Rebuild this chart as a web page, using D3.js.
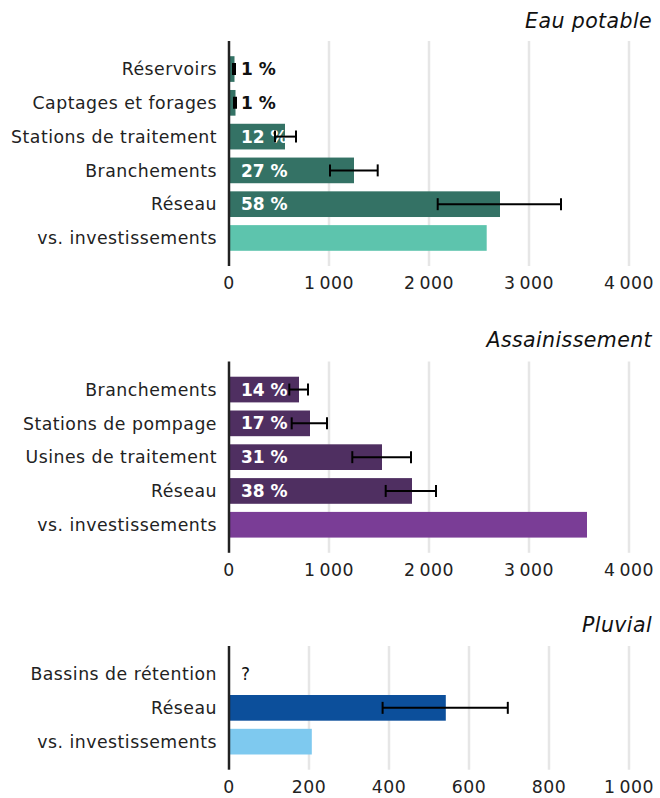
<!DOCTYPE html>
<html><head><meta charset="utf-8">
<script src="https://cdn.jsdelivr.net/npm/d3@7"></script>
<style>
body{margin:0;background:#fff;}
text{font-family:"DejaVu Sans",sans-serif;}
</style></head>
<body><svg id="c" width="660" height="798"></svg>
<script>
// Eau potable
const eauCats = ["Réservoirs","Captages et forages","Stations de traitement","Branchements","Réseau","vs. investissements"];
const eauValues = [55, 65, 560, 1250, 2710, 2577];
const eauLow = [40, 50, 460, 1010, 2087, null];
const eauHigh = [60, 70, 670, 1487, 3320, null];
const eauPct = ["1 %","1 %","12 %","27 %","58 %",""];
const eauTicks = [0,1000,2000,3000,4000];

// Assainissement
const assCats = ["Branchements","Stations de pompage","Usines de traitement","Réseau","vs. investissements"];
const assValues = [700, 810, 1530, 1830, 3580];
const assLow = [603, 627, 1233, 1567, null];
const assHigh = [790, 980, 1820, 2070, null];
const assPct = ["14 %","17 %","31 %","38 %",""];
const assTicks = [0,1000,2000,3000,4000];

// Pluvial
const pluCats = ["Bassins de rétention","Réseau","vs. investissements"];
const pluValues = [null, 542, 207];
const pluLow = [null, 384, null];
const pluHigh = [null, 697, null];
const pluPct = ["?","",""];
const pluTicks = [0,200,400,600,800,1000];

const svg = d3.select("#c");
const fmt = v => d3.format(",")(v).replace(/,/g, "\u2009");

function panel(opt){
  const g = svg.append("g");
  const x = d3.scaleLinear().domain([0, opt.max]).range([229, 629]);
  const y = d3.scaleBand().domain(opt.cats).range([opt.top, opt.bottom]).paddingInner(0.24).paddingOuter(0.45);
  g.append("text").attr("x", 652).attr("y", opt.titleY).attr("text-anchor","end")
    .style("font-style","italic").style("font-size","20.5px").style("letter-spacing","0.4px")
    .attr("fill","#111").text(opt.title);
  g.selectAll(".grid").data(opt.ticks.slice(1)).join("line")
    .attr("x1", d=>x(d)).attr("x2", d=>x(d)).attr("y1", opt.top).attr("y2", opt.bottom)
    .attr("stroke","#e6e6e6").attr("stroke-width",2.5);
  const data = opt.cats.map((c,i)=>({c, v:opt.values[i], lo:opt.low[i], hi:opt.high[i], p:opt.pct[i], i}));
  g.selectAll(".bar").data(data.filter(d=>d.v!=null)).join("rect")
    .attr("x", x(0)).attr("y", d=>y(d.c)).attr("width", d=>x(d.v)-x(0)).attr("height", y.bandwidth())
    .attr("fill", d=> d.i===opt.cats.length-1 ? opt.light : opt.dark);
  g.selectAll(".pct").data(data.filter(d=>d.p)).join("text")
    .attr("x", 241).attr("y", d=>y(d.c)+y.bandwidth()/2).attr("dy","0.36em")
    .style("font-size", "17px")
    .style("font-weight", d=> d.p==="?" ? 400 : 700)
    .attr("fill", d=> (d.p==="?" || (x(d.v)-x(0))<30) ? "#111" : "#fff")
    .text(d=>d.p);
  const eb = data.filter(d=>d.lo!=null);
  const eg = g.selectAll(".eb").data(eb).join("g").attr("stroke","#000").attr("stroke-width",2);
  eg.append("line").attr("x1", d=>x(d.lo)).attr("x2", d=>x(d.hi)).attr("y1", d=>y(d.c)+y.bandwidth()/2).attr("y2", d=>y(d.c)+y.bandwidth()/2);
  eg.append("line").attr("x1", d=>x(d.lo)).attr("x2", d=>x(d.lo)).attr("y1", d=>y(d.c)+y.bandwidth()/2-6).attr("y2", d=>y(d.c)+y.bandwidth()/2+6);
  eg.append("line").attr("x1", d=>x(d.hi)).attr("x2", d=>x(d.hi)).attr("y1", d=>y(d.c)+y.bandwidth()/2-6).attr("y2", d=>y(d.c)+y.bandwidth()/2+6);
  g.append("line").attr("x1", x(0)).attr("x2", x(0)).attr("y1", opt.top).attr("y2", opt.bottom)
    .attr("stroke","#222").attr("stroke-width",2.5);
  g.selectAll(".cat").data(opt.cats).join("text")
    .attr("x", 217).attr("y", d=>y(d)+y.bandwidth()/2).attr("dy","0.36em").attr("text-anchor","end")
    .style("font-size","17.3px").style("letter-spacing","0.5px").attr("fill","#222").text(d=>d);
  g.selectAll(".tick").data(opt.ticks).join("text")
    .attr("x", d=>x(d)).attr("y", opt.bottom+23).attr("text-anchor","middle")
    .style("font-size","17.3px").style("letter-spacing","0.5px").attr("fill","#222").text(d=>fmt(d));
}

panel({title:"Eau potable", titleY:28, cats:eauCats, values:eauValues, low:eauLow, high:eauHigh, pct:eauPct,
  ticks:eauTicks, max:4000, top:41, bottom:266, dark:"#347265", light:"#5dc4ad"});
panel({title:"Assainissement", titleY:347, cats:assCats, values:assValues, low:assLow, high:assHigh, pct:assPct,
  ticks:assTicks, max:4000, top:361.5, bottom:552.8, dark:"#4f2f61", light:"#7a3d96"});
panel({title:"Pluvial", titleY:632, cats:pluCats, values:pluValues, low:pluLow, high:pluHigh, pct:pluPct,
  ticks:pluTicks, max:1000, top:646, bottom:769.7, dark:"#0c4f9b", light:"#7ec9ef"});
</script></body></html>
